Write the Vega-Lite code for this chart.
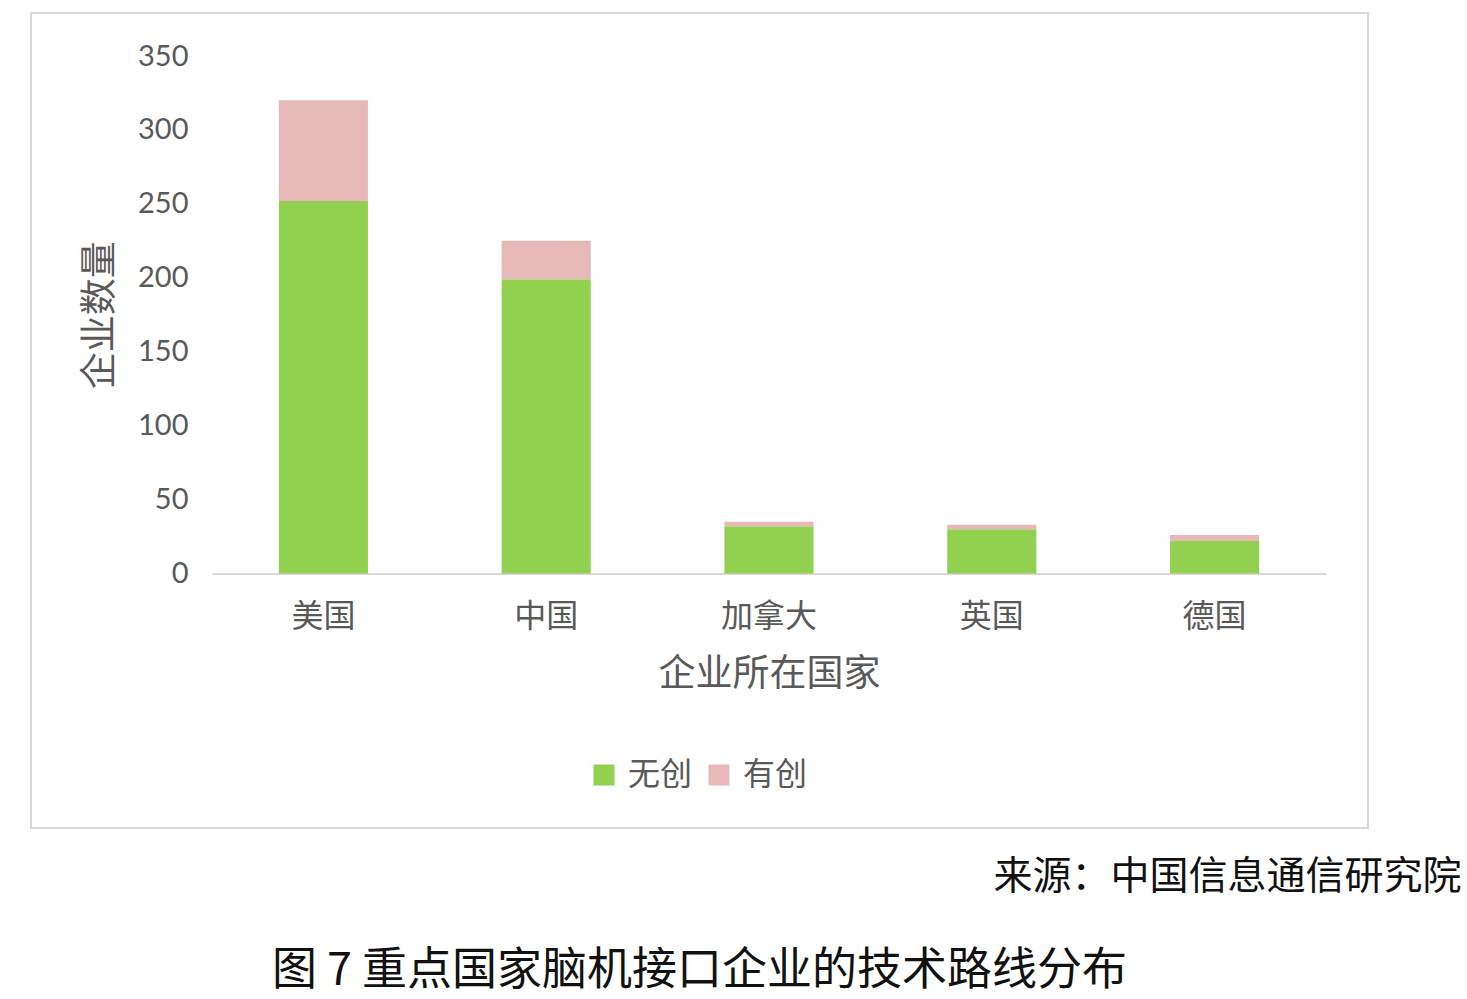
{
  "$schema": "https://vega.github.io/schema/vega-lite/v6.json",
  "width": 1337,
  "height": 815,
  "autosize": {"type": "none"},
  "padding": {"left": 31, "top": 13, "right": 99, "bottom": 171},
  "background": "white",
  "config": {
    "view": {"stroke": "#d9d9d9", "strokeWidth": 2},
    "font": "Noto Sans CJK SC"
  },
  "title": {
    "text": "图 7 重点国家脑机接口企业的技术路线分布",
    "orient": "bottom",
    "anchor": "middle",
    "frame": "group",
    "font": "Noto Sans CJK SC",
    "fontSize": 45,
    "fontWeight": "normal",
    "color": "#111111",
    "offset": 52
  },
  "layer": [
    {
      "data": {
        "values": [
          {"country": "美国", "type": "无创", "count": 252},
          {"country": "美国", "type": "有创", "count": 68},
          {"country": "中国", "type": "无创", "count": 199},
          {"country": "中国", "type": "有创", "count": 26},
          {"country": "加拿大", "type": "无创", "count": 32},
          {"country": "加拿大", "type": "有创", "count": 3},
          {"country": "英国", "type": "无创", "count": 30},
          {"country": "英国", "type": "有创", "count": 3},
          {"country": "德国", "type": "无创", "count": 22},
          {"country": "德国", "type": "有创", "count": 4}
        ]
      },
      "mark": {"type": "bar"},
      "encoding": {
        "x": {
          "field": "country",
          "type": "nominal",
          "sort": ["美国", "中国", "加拿大", "英国", "德国"],
          "scale": {
            "domain": ["美国", "中国", "加拿大", "英国", "德国"],
            "range": [181, 1295],
            "paddingInner": 0.6,
            "paddingOuter": 0.3
          },
          "axis": {
            "title": "企业所在国家",
            "offset": -254.5,
            "labelAngle": 0,
            "labelFont": "Noto Sans CJK SC",
            "labelFontSize": 32,
            "labelColor": "#595959",
            "labelPadding": 28,
            "ticks": false,
            "domainColor": "#d9d9d9",
            "domainWidth": 2,
            "titleFont": "Noto Sans CJK SC",
            "titleFontSize": 37,
            "titleFontWeight": "normal",
            "titleColor": "#595959",
            "titlePadding": 24
          }
        },
        "y": {
          "field": "count",
          "type": "quantitative",
          "stack": "zero",
          "scale": {"domain": [0, 350], "range": [560.5, 43], "nice": false, "zero": true},
          "axis": {
            "title": "企业数量",
            "offset": -181,
            "values": [0, 50, 100, 150, 200, 250, 300, 350],
            "grid": false,
            "domain": false,
            "ticks": false,
            "labelFont": "Lato",
            "labelFontSize": 29,
            "labelColor": "#595959",
            "labelPadding": 24,
            "titleFont": "Noto Sans CJK SC",
            "titleFontSize": 37,
            "titleFontWeight": "normal",
            "titleColor": "#595959",
            "titlePadding": 18
          }
        },
        "color": {
          "field": "type",
          "type": "nominal",
          "scale": {"domain": ["无创", "有创"], "range": ["#92d050", "#e6b9b8"]},
          "legend": {
            "title": null,
            "orient": "none",
            "direction": "horizontal",
            "legendX": 557,
            "legendY": 746,
            "symbolType": "square",
            "symbolSize": 441,
            "symbolStrokeWidth": 0,
            "labelFont": "Noto Sans CJK SC",
            "labelFontSize": 32,
            "labelColor": "#595959",
            "labelOffset": 8,
            "columnPadding": 10
          }
        },
        "order": {"field": "type", "sort": "ascending"}
      }
    },
    {
      "data": {"values": [{"note": "来源：中国信息通信研究院"}]},
      "mark": {
        "type": "text",
        "align": "center",
        "baseline": "middle",
        "font": "Noto Sans CJK SC",
        "fontSize": 39,
        "color": "#111111",
        "dx": 13
      },
      "encoding": {
        "x": {"datum": "德国", "type": "nominal"},
        "y": {"datum": -205.3, "type": "quantitative"},
        "text": {"field": "note"}
      }
    }
  ]
}
